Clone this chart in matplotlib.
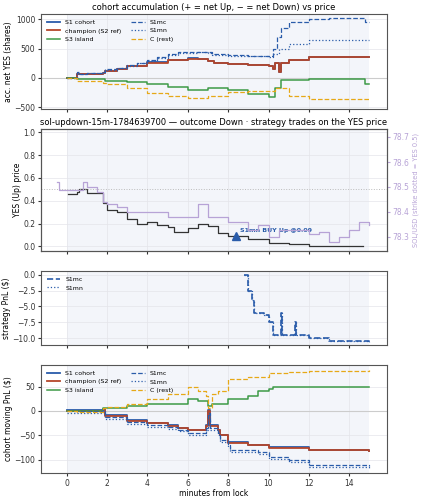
import matplotlib
matplotlib.use("Agg")
import matplotlib.pyplot as plt
import numpy as np

# ---------- data ----------
sh_t_mc = [0,0.5,0.6,1,1.8,1.9,2.5,3,3.5,4,4.5,5,5.5,6,6.5,7,7.2,8,9,10,10.2,10.4,10.6,11,12,13,14.7,14.8,15]
sh_mc   = [0,100,70,90,100,150,170,220,260,300,350,400,440,440,450,440,400,390,380,370,500,700,850,950,1000,1020,1020,950,950]
sh_t_mn = [0,0.5,0.6,1,1.8,1.9,2.5,3,3.5,4,4.5,5,5.5,6,6.5,7,7.2,8,9,10,10.2,10.5,11,12,15]
sh_mn   = [0,90,70,85,95,140,165,210,250,290,340,390,420,430,440,430,390,380,370,360,400,500,580,640,640]
sh_t_ch = [0,0.5,1.8,1.9,2.5,3,4,5,6,6.5,7,7.3,8,9,10,10.2,10.3,10.5,10.6,11,12,15]
sh_ch   = [0,60,80,120,150,200,260,300,330,320,280,250,240,220,200,150,250,100,250,300,350,350]
sh_t_s1 = sh_t_ch
sh_s1   = [v + 5 for v in sh_ch]
sh_t_s3 = [0,0.5,1.8,1.9,3,4,5,6,7,8,9,10,10.3,10.6,12,14.7,14.8,15]
sh_s3   = [0,-20,-20,-60,-70,-100,-150,-200,-180,-200,-280,-330,-170,-40,-10,-10,-100,-100]
sh_t_c  = [0,0.5,1.8,2,3,4,5,6,7,8,9,10,10.3,11,12,15]
sh_c    = [0,-60,-80,-110,-180,-250,-310,-340,-300,-240,-230,-220,-180,-300,-360,-350]

yes_t = [0.05,0.5,0.6,1,1.7,1.8,2,2.5,3,3.5,4,4.5,5,5.3,6,6.5,7,7.5,8,9,10,11,12,14.7]
yes_p = [0.46,0.48,0.50,0.47,0.47,0.38,0.32,0.30,0.24,0.20,0.21,0.19,0.17,0.13,0.16,0.20,0.18,0.12,0.09,0.06,0.03,0.02,0.00,0.00]
sol_t = [-0.5,-0.4,0.8,1,1.5,1.8,2,2.5,3,4,5,6,6.5,7,8,9,9.5,10,10.5,11,12,12.5,13,13.5,14,14.5,15]
sol_p = [78.52,78.49,78.52,78.50,78.48,78.44,78.43,78.42,78.40,78.40,78.38,78.38,78.43,78.38,78.36,78.33,78.35,78.30,78.33,78.33,78.31,78.32,78.28,78.30,78.33,78.36,78.35]
trade_t, trade_p = 8.4, 0.09

pnl_t  = [8.8,9,9.2,9.3,9.8,10,10.2,10.55,10.6,10.65,11.25,11.3,11.35,12,13,15]
pnl_mc = [0,-2.5,-4,-6,-6.3,-7.5,-9.5,-9.5,-6,-9.5,-9.5,-7.5,-9.5,-10,-10.5,-10.7]

mv_t_c  = [0,0.5,1.8,2,3,4,5,6,6.5,6.9,7,7.2,7.5,8,9,10,11,12,15]
mv_c    = [0,-3,5,8,15,25,35,50,40,30,5,35,40,65,70,78,80,82,83]
mv_t_s3 = [0,1.8,3,4,5,6,6.5,7,7.2,8,9,9.5,10,10.2,15]
mv_s3   = [0,5,10,15,15,25,20,10,15,25,30,40,45,50,50]
mv_t_ch = [0,1.8,1.9,3,4,5,5.5,6,6.5,6.9,7,7.1,7.5,7.6,8,9,10,12,15]
mv_ch   = [0,2,-10,-20,-25,-30,-35,-40,-40,-30,0,-30,-40,-50,-65,-70,-75,-80,-82]
mv_t_mc = [0,1.8,1.9,3,4,5,5.5,6,6.5,6.9,7,7.1,7.5,7.6,8,8.1,9.5,10,11,12,15]
mv_mc   = [0,2,-12,-22,-28,-33,-38,-45,-45,-35,-5,-35,-45,-60,-70,-80,-85,-95,-100,-110,-113]
mv_mn   = [v - 4 for v in mv_mc]

BLUE="#2a5caa"; RED="#b5462a"; GREEN="#3d9a47"; YEL="#e6a817"; PUR="#b7a3d6"
FS = 5.5

fig = plt.figure(figsize=(4.21,5.0), dpi=100)
L, W = 41/421, 346/421
def ax_at(top, bot):
    return fig.add_axes([L, 1-bot/500, W, (bot-top)/500])
a1 = ax_at(14,109); a2 = ax_at(129,251); a3 = ax_at(271,345); a4 = ax_at(365,473)
for a in (a1,a2,a3,a4):
    a.set_xlim(-1.27,15.87)
    a.axvspan(0,15,color="#eef1f8",alpha=0.7,lw=0,zorder=0)
    a.grid(True,color="#e4e4ea",lw=0.5)
    a.tick_params(labelsize=FS,length=2.5,pad=1.5,colors="#333")
    a.set_xticks([0,2,4,6,8,10,12,14])
    for s in a.spines.values(): s.set_color("#555")
    if a is not a4: a.set_xticklabels([])

def st(a,t,v,**k): a.step(t,v,where="post",**k)

# panel 1
a1.axhline(0,color="#ccc",lw=0.8)
st(a1,sh_t_s1,sh_s1,color=BLUE,lw=1.3,label="S1 cohort")
st(a1,sh_t_ch,sh_ch,color=RED,lw=1.3,label="champion (S2 ref)")
st(a1,sh_t_s3,sh_s3,color=GREEN,lw=1.1,label="S3 island")
st(a1,sh_t_mc,sh_mc,color=BLUE,lw=0.9,ls="--",label="S1mc")
st(a1,sh_t_mn,sh_mn,color=BLUE,lw=0.9,ls=":",label="S1mn")
st(a1,sh_t_c,sh_c,color=YEL,lw=0.9,ls="--",label="C (rest)")
a1.set_ylim(-530,1090); a1.set_yticks([-500,0,500,1000])
a1.set_ylabel("acc. net YES (shares)",fontsize=FS,labelpad=1)
a1.set_title("cohort accumulation (+ = net Up, − = net Down) vs price",fontsize=6,pad=3)
a1.legend(ncol=2,fontsize=4.5,frameon=False,loc="upper left",handlelength=2.2,columnspacing=1.5)

# panel 2
st(a2,yes_t,yes_p,color="#333",lw=0.9)
a2.axhline(0.5,color="#bbb",lw=0.7,ls=":")
a2.plot(trade_t,trade_p,marker="^",color=BLUE,ms=6,ls="none")
a2.annotate("S1mn BUY Up @0.09",(trade_t,trade_p),xytext=(3,3),textcoords="offset points",
            fontsize=4.5,color=BLUE,fontweight="bold")
a2.set_ylim(-0.041,1.029); a2.set_yticks([0,0.2,0.4,0.6,0.8,1.0])
a2.set_ylabel("YES (Up) price",fontsize=FS,labelpad=1)
a2.set_title("sol-updown-15m-1784639700 — outcome Down · strategy trades on the YES price",fontsize=6,pad=3)
b2 = a2.twinx()
st(b2,sol_t,sol_p,color=PUR,lw=0.9)
b2.set_ylim(78.244,78.732); b2.set_yticks([78.3,78.4,78.5,78.6,78.7])
b2.tick_params(labelsize=FS,colors=PUR,length=2.5,pad=1.5)
b2.set_ylabel("SOL/USD (strike dotted = YES 0.5)",fontsize=4.8,color=PUR,labelpad=2)
for s in b2.spines.values(): s.set_color("#555")

# panel 3
st(a3,pnl_t,pnl_mc,color=BLUE,lw=1.2,ls="--",label="S1mc")
st(a3,pnl_t,pnl_mc,color=BLUE,lw=0.9,ls=":",label="S1mn")
a3.set_ylim(-11.1,0.58); a3.set_yticks([0,-2.5,-5,-7.5,-10])
a3.set_ylabel("strategy PnL ($)",fontsize=FS,labelpad=1)
a3.legend(fontsize=4.5,frameon=False,loc="upper left",handlelength=2.2)

# panel 4
a4.axhline(0,color="#ccc",lw=0.8)
st(a4,mv_t_ch,[v+1 for v in mv_ch],color=BLUE,lw=1.3,label="S1 cohort")
st(a4,mv_t_ch,mv_ch,color=RED,lw=1.3,label="champion (S2 ref)")
st(a4,mv_t_s3,mv_s3,color=GREEN,lw=1.1,label="S3 island")
st(a4,mv_t_mc,mv_mc,color=BLUE,lw=0.9,ls="--",label="S1mc")
st(a4,mv_t_mc,mv_mn,color=BLUE,lw=0.9,ls=":",label="S1mn")
st(a4,mv_t_c,mv_c,color=YEL,lw=0.9,ls="--",label="C (rest)")
a4.set_ylim(-127,94); a4.set_yticks([-100,-50,0,50])
a4.set_ylabel("cohort moving PnL ($)",fontsize=FS,labelpad=1)
a4.set_xlabel("minutes from lock",fontsize=FS,labelpad=1)
a4.legend(ncol=2,fontsize=4.5,frameon=False,loc="upper left",handlelength=2.2,columnspacing=1.5)

fig.savefig("out.png",dpi=100)
